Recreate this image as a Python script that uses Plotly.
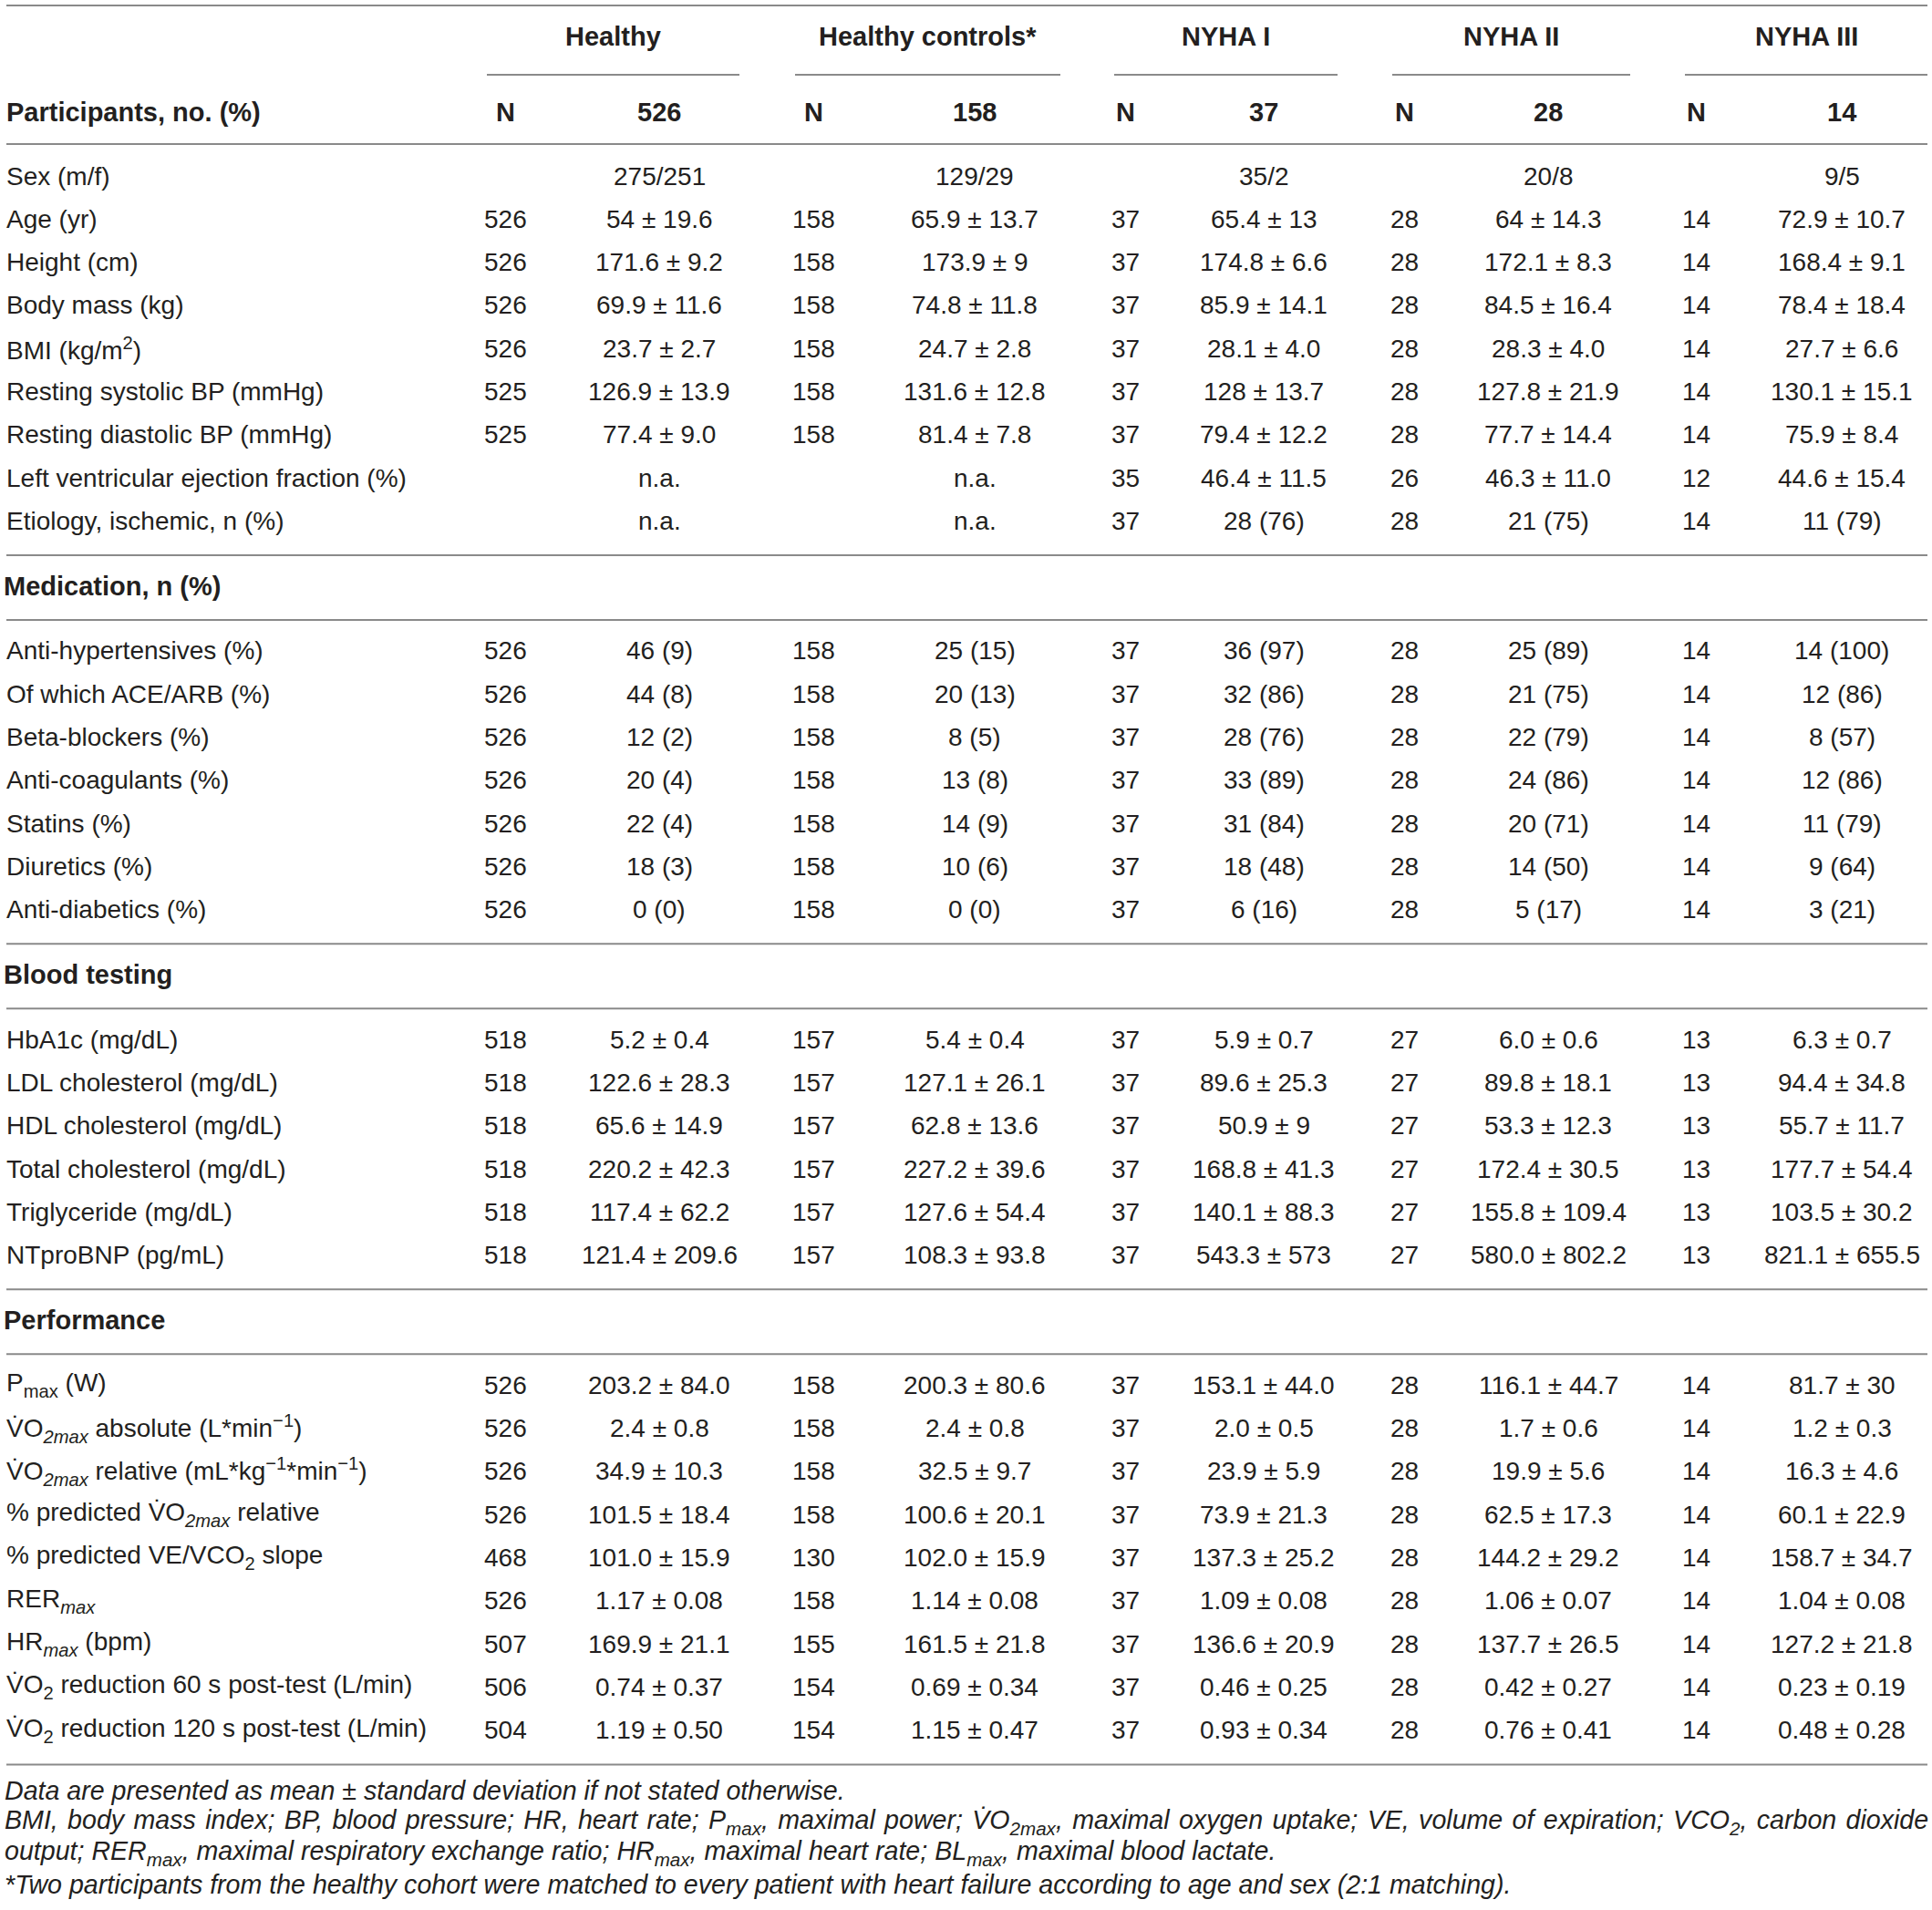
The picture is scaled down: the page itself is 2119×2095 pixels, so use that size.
import plotly.graph_objects as go

W, H = 2119, 2095


def SUB(s, italic=False):
    if italic:
        s = "<i>" + s + "</i>"
    return '<span style="font-size:72%;baseline-shift:-7px">' + s + "</span>"


def SUP(s):
    return '<span style="font-size:72%;baseline-shift:11px">' + s + "</span>"


# ---------------- data ----------------
groups = ["Healthy", "Healthy controls*", "NYHA I", "NYHA II", "NYHA III"]
group_n = ["526", "158", "37", "28", "14"]

base_labels = ["Sex (m/f)", "Age (yr)", "Height (cm)", "Body mass (kg)",
               "BMI (kg/m" + SUP("2") + ")", "Resting systolic BP (mmHg)",
               "Resting diastolic BP (mmHg)", "Left ventricular ejection fraction (%)",
               "Etiology, ischemic, n (%)"]
base_n = [["", "", "", "", ""],
          ["526", "158", "37", "28", "14"],
          ["526", "158", "37", "28", "14"],
          ["526", "158", "37", "28", "14"],
          ["526", "158", "37", "28", "14"],
          ["525", "158", "37", "28", "14"],
          ["525", "158", "37", "28", "14"],
          ["", "", "35", "26", "12"],
          ["", "", "37", "28", "14"]]
base_vals = [["275/251", "129/29", "35/2", "20/8", "9/5"],
             ["54 ± 19.6", "65.9 ± 13.7", "65.4 ± 13", "64 ± 14.3", "72.9 ± 10.7"],
             ["171.6 ± 9.2", "173.9 ± 9", "174.8 ± 6.6", "172.1 ± 8.3", "168.4 ± 9.1"],
             ["69.9 ± 11.6", "74.8 ± 11.8", "85.9 ± 14.1", "84.5 ± 16.4", "78.4 ± 18.4"],
             ["23.7 ± 2.7", "24.7 ± 2.8", "28.1 ± 4.0", "28.3 ± 4.0", "27.7 ± 6.6"],
             ["126.9 ± 13.9", "131.6 ± 12.8", "128 ± 13.7", "127.8 ± 21.9", "130.1 ± 15.1"],
             ["77.4 ± 9.0", "81.4 ± 7.8", "79.4 ± 12.2", "77.7 ± 14.4", "75.9 ± 8.4"],
             ["n.a.", "n.a.", "46.4 ± 11.5", "46.3 ± 11.0", "44.6 ± 15.4"],
             ["n.a.", "n.a.", "28 (76)", "21 (75)", "11 (79)"]]

med_title = "Medication, n (%)"
med_labels = ["Anti-hypertensives (%)", "Of which ACE/ARB (%)", "Beta-blockers (%)",
              "Anti-coagulants (%)", "Statins (%)", "Diuretics (%)", "Anti-diabetics (%)"]
med_n = [["526", "158", "37", "28", "14"]] * 7
med_vals = [["46 (9)", "25 (15)", "36 (97)", "25 (89)", "14 (100)"],
            ["44 (8)", "20 (13)", "32 (86)", "21 (75)", "12 (86)"],
            ["12 (2)", "8 (5)", "28 (76)", "22 (79)", "8 (57)"],
            ["20 (4)", "13 (8)", "33 (89)", "24 (86)", "12 (86)"],
            ["22 (4)", "14 (9)", "31 (84)", "20 (71)", "11 (79)"],
            ["18 (3)", "10 (6)", "18 (48)", "14 (50)", "9 (64)"],
            ["0 (0)", "0 (0)", "6 (16)", "5 (17)", "3 (21)"]]

blood_title = "Blood testing"
blood_labels = ["HbA1c (mg/dL)", "LDL cholesterol (mg/dL)", "HDL cholesterol (mg/dL)",
                "Total cholesterol (mg/dL)", "Triglyceride (mg/dL)", "NTproBNP (pg/mL)"]
blood_n = [["518", "157", "37", "27", "13"]] * 6
blood_vals = [["5.2 ± 0.4", "5.4 ± 0.4", "5.9 ± 0.7", "6.0 ± 0.6", "6.3 ± 0.7"],
              ["122.6 ± 28.3", "127.1 ± 26.1", "89.6 ± 25.3", "89.8 ± 18.1", "94.4 ± 34.8"],
              ["65.6 ± 14.9", "62.8 ± 13.6", "50.9 ± 9", "53.3 ± 12.3", "55.7 ± 11.7"],
              ["220.2 ± 42.3", "227.2 ± 39.6", "168.8 ± 41.3", "172.4 ± 30.5", "177.7 ± 54.4"],
              ["117.4 ± 62.2", "127.6 ± 54.4", "140.1 ± 88.3", "155.8 ± 109.4", "103.5 ± 30.2"],
              ["121.4 ± 209.6", "108.3 ± 93.8", "543.3 ± 573", "580.0 ± 802.2", "821.1 ± 655.5"]]

VDOT = "V\u0307"
perf_title = "Performance"
perf_labels = ["P" + SUB("max") + " (W)",
               VDOT + "O" + SUB("2max", True) + " absolute (L*min" + SUP("−1") + ")",
               VDOT + "O" + SUB("2max", True) + " relative (mL*kg" + SUP("−1") + "*min" + SUP("−1") + ")",
               "% predicted " + VDOT + "O" + SUB("2max", True) + " relative",
               "% predicted VE/VCO" + SUB("2") + " slope",
               "RER" + SUB("max", True),
               "HR" + SUB("max", True) + " (bpm)",
               VDOT + "O" + SUB("2") + " reduction 60 s post-test (L/min)",
               VDOT + "O" + SUB("2") + " reduction 120 s post-test (L/min)"]
perf_n = [["526", "158", "37", "28", "14"],
          ["526", "158", "37", "28", "14"],
          ["526", "158", "37", "28", "14"],
          ["526", "158", "37", "28", "14"],
          ["468", "130", "37", "28", "14"],
          ["526", "158", "37", "28", "14"],
          ["507", "155", "37", "28", "14"],
          ["506", "154", "37", "28", "14"],
          ["504", "154", "37", "28", "14"]]
perf_vals = [["203.2 ± 84.0", "200.3 ± 80.6", "153.1 ± 44.0", "116.1 ± 44.7", "81.7 ± 30"],
             ["2.4 ± 0.8", "2.4 ± 0.8", "2.0 ± 0.5", "1.7 ± 0.6", "1.2 ± 0.3"],
             ["34.9 ± 10.3", "32.5 ± 9.7", "23.9 ± 5.9", "19.9 ± 5.6", "16.3 ± 4.6"],
             ["101.5 ± 18.4", "100.6 ± 20.1", "73.9 ± 21.3", "62.5 ± 17.3", "60.1 ± 22.9"],
             ["101.0 ± 15.9", "102.0 ± 15.9", "137.3 ± 25.2", "144.2 ± 29.2", "158.7 ± 34.7"],
             ["1.17 ± 0.08", "1.14 ± 0.08", "1.09 ± 0.08", "1.06 ± 0.07", "1.04 ± 0.08"],
             ["169.9 ± 21.1", "161.5 ± 21.8", "136.6 ± 20.9", "137.7 ± 26.5", "127.2 ± 21.8"],
             ["0.74 ± 0.37", "0.69 ± 0.34", "0.46 ± 0.25", "0.42 ± 0.27", "0.23 ± 0.19"],
             ["1.19 ± 0.50", "1.15 ± 0.47", "0.93 ± 0.34", "0.76 ± 0.41", "0.48 ± 0.28"]]

footnotes = [
    "Data are presented as mean ± standard deviation if not stated otherwise.",
    "BMI, body mass index; BP, blood pressure; HR, heart rate; P" + SUB("max") + ", maximal power; "
    + VDOT + "O" + SUB("2max") + ", maximal oxygen uptake; VE, volume of expiration; VCO" + SUB("2")
    + ", carbon dioxide",
    "output; RER" + SUB("max") + ", maximal respiratory exchange ratio; HR" + SUB("max")
    + ", maximal heart rate; BL" + SUB("max") + ", maximal blood lactate.",
    "*Two participants from the healthy cohort were matched to every patient with heart failure "
    "according to age and sex (2:1 matching).",
]

# ---------------- layout / style ----------------
FONT = "Liberation Sans"
TXT = "#231f20"
LINE = "#8a8a8a"
FS = 28
FSB = 29
FSF = 28.6
X_LABEL = 5
X_TITLE = 2
X_N = [554, 892, 1234, 1540, 1860]
X_VAL = [723, 1069, 1386, 1698, 2020]
SUB_SPANS = [(534, 811), (872, 1163), (1222, 1467), (1527, 1788), (1848, 2114)]
X_LEFT, X_RIGHT = 7, 2114
ROW = 47.3
YOFF = -2
JUSTIFY = [None, 2.4, None, None]   # word spacing (px) of the full-width footnote line

annotations = []
shapes = []


def text(x, y, s, anchor="left", size=FS, bold=False, italic=False):
    font = dict(family=FONT, size=size, color=TXT)
    if bold:
        font["weight"] = "bold"
    if italic:
        font["style"] = "italic"
    annotations.append(dict(x=x, y=y + YOFF, xref="x", yref="y", text=s, showarrow=False,
                            xanchor=anchor, yanchor="middle", font=font))


def hline(y, x0=X_LEFT, x1=X_RIGHT):
    shapes.append(dict(type="line", xref="x", yref="y", x0=x0, x1=x1, y0=y, y1=y,
                       line=dict(color=LINE, width=2)))


# top rule and group headers
hline(6)
for g, (a, b) in zip(groups, SUB_SPANS):
    text((a + b) / 2, 42, g, anchor="center", size=FSB, bold=True)
    hline(82, a, b)

text(X_LABEL, 125, "Participants, no. (%)", size=FSB, bold=True)
for i in range(5):
    text(X_N[i], 125, "N", anchor="center", size=FSB, bold=True)
    text(X_VAL[i], 125, group_n[i], anchor="center", size=FSB, bold=True)
hline(158)


def body(y0, labels, ns, vals):
    for r, (lab, nrow, vrow) in enumerate(zip(labels, ns, vals)):
        y = y0 + r * ROW
        text(X_LABEL, y, lab)
        for i in range(5):
            if nrow[i]:
                text(X_N[i], y, nrow[i], anchor="center")
            text(X_VAL[i], y, vrow[i], anchor="center")
    return y0 + (len(labels) - 1) * ROW


last = body(195, base_labels, base_n, base_vals)
for title, labs, ns, vals in [(med_title, med_labels, med_n, med_vals),
                              (blood_title, blood_labels, blood_n, blood_vals),
                              (perf_title, perf_labels, perf_n, perf_vals)]:
    yl = last + 35.5
    hline(yl)
    text(X_TITLE, yl + 36, title, size=FSB, bold=True)
    hline(yl + 71)
    last = body(yl + 107, labs, ns, vals)

yl = last + 36
hline(yl)
for k, f in enumerate(footnotes):
    if JUSTIFY[k]:
        f = '<span style="word-spacing:%.1fpx">%s</span>' % (JUSTIFY[k], f)
    text(3, yl + 30 + k * 34.5, f, size=FSF, italic=True)

fig = go.Figure()
fig.update_layout(
    width=W, height=H, margin=dict(l=0, r=0, t=0, b=0),
    paper_bgcolor="white", plot_bgcolor="white",
    xaxis=dict(range=[0, W], visible=False, fixedrange=True),
    yaxis=dict(range=[H, 0], visible=False, fixedrange=True),
    annotations=annotations, shapes=shapes, showlegend=False,
)
fig.write_html("out.html", post_script="document.body.style.margin='0';",
               config={"displayModeBar": False})
